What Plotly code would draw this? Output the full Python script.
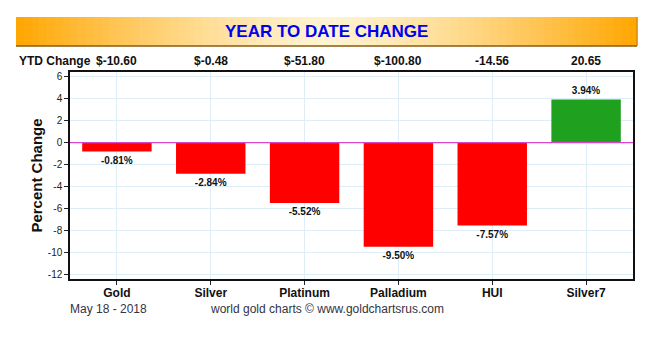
import plotly.graph_objects as go

categories = ["Gold", "Silver", "Platinum", "Palladium", "HUI", "Silver7"]
pct_change = [-0.81, -2.84, -5.52, -9.50, -7.57, 3.94]
ytd_change = ["$-10.60", "$-0.48", "$-51.80", "$-100.80", "-14.56", "20.65"]
y_ticks = [-12, -10, -8, -6, -4, -2, 0, 2, 4, 6]
y_tick_text = [str(v) for v in y_ticks]

colors = ["#FF0000" if v < 0 else "#1FA01F" for v in pct_change]
labels = [f"<b>{v:.2f}%</b>" for v in pct_change]

fig = go.Figure()
fig.add_trace(go.Bar(
    x=categories, y=pct_change, marker=dict(color=colors, line=dict(width=0)),
    width=0.74, text=labels, textposition="outside", cliponaxis=False,
    textfont=dict(family="Liberation Sans, Arial", size=10, color="#111111"),
    hoverinfo="skip",
))

# gradient banner made of thin strips
def lerp(a, b, t):
    return int(round(a + (b - a) * t))
edge = (255, 166, 0)
mid = (255, 243, 210)
x0, x1, y0, y1 = 16, 637, 17, 46
n = 80
shapes = []
for i in range(n):
    t = (i + 0.5) / n
    d = abs(t - 0.5) * 2
    d = d ** 1.3
    c = tuple(lerp(mid[k], edge[k], d) for k in range(3))
    xa = x0 + (x1 - x0) * i / n
    xb = x0 + (x1 - x0) * (i + 1) / n + 0.6
    shapes.append(dict(type="rect", xref="paper", yref="paper", layer="below",
                       x0=(xa - 70) / 563, x1=(xb - 70) / 563,
                       y0=(337 - 58 - y1) / 207, y1=(337 - 58 - y0) / 207,
                       line=dict(width=0), fillcolor="rgb(%d,%d,%d)" % c))
shapes.append(dict(type="line", xref="paper", yref="paper",
                   x0=(x0 - 70) / 563, x1=(x1 - 70) / 563,
                   y0=(337 - 58 - y1) / 207, y1=(337 - 58 - y1) / 207,
                   line=dict(color="#8A5A10", width=1.5)))
shapes.append(dict(type="line", xref="paper", yref="paper",
                   x0=(x1 - 70) / 563, x1=(x1 - 70) / 563,
                   y0=(337 - 58 - y1) / 207, y1=(337 - 58 - y0) / 207,
                   line=dict(color="#C07A10", width=1)))
shapes.append(dict(type="line", xref="paper", yref="y", x0=0, x1=1, y0=0, y1=0,
                   line=dict(color="#DD44CC", width=1.2)))

font_main = "Liberation Sans, Arial"
annotations = [
    dict(text="<b>YEAR TO DATE CHANGE</b>", xref="paper", yref="paper",
         x=(326.5 - 70) / 563, y=(337 - 58 - 31.5) / 207, showarrow=False,
         font=dict(family=font_main, size=17, color="#0000EE"),
         xanchor="center", yanchor="middle"),
    dict(text="<b>YTD Change</b>", xref="paper", yref="paper",
         x=(17 - 70) / 563, y=(337 - 58 - 61) / 207, showarrow=False,
         font=dict(family=font_main, size=12, color="#111111"),
         xanchor="left", yanchor="middle"),
    dict(text="May 18 - 2018", xref="paper", yref="paper",
         x=(68 - 70) / 563, y=(337 - 58 - 309) / 207, showarrow=False,
         font=dict(family=font_main, size=12, color="#333344"),
         xanchor="left", yanchor="middle"),
    dict(text="world gold charts © www.goldchartsrus.com", xref="paper", yref="paper",
         x=(327 - 70) / 563, y=(337 - 58 - 309) / 207, showarrow=False,
         font=dict(family=font_main, size=12, color="#333344"),
         xanchor="center", yanchor="middle"),
]
for c, v in zip(categories, ytd_change):
    annotations.append(dict(text=f"<b>{v}</b>", x=c, xref="x", yref="paper",
                            y=(337 - 58 - 61) / 207, showarrow=False,
                            font=dict(family=font_main, size=12, color="#111111"),
                            xanchor="center", yanchor="middle"))

fig.update_layout(
    width=651, height=337,
    margin=dict(l=70, r=18, t=72, b=58),
    paper_bgcolor="white", plot_bgcolor="white",
    showlegend=False, bargap=0.26,
    shapes=shapes, annotations=annotations,
    xaxis=dict(range=[-0.5, 5.5], showgrid=True, gridcolor="#DDEEF8", gridwidth=1,
               ticks="outside", ticklen=4, tickcolor="#222", tickwidth=1,
               ticklabelstandoff=-2,
               showline=True, linecolor="#111", linewidth=1.5, mirror=True,
               tickfont=dict(family=font_main, size=12, color="#111111"),
               tickprefix="<b>", ticksuffix="</b>", zeroline=False),
    yaxis=dict(range=[-12.45, 6.45], tickvals=y_ticks, ticktext=y_tick_text,
               showgrid=True, gridcolor="#DDEEF8", gridwidth=1, zeroline=False,
               ticks="outside", ticklen=4, tickcolor="#222",
               showline=True, linecolor="#111", linewidth=1.5, mirror=True,
               tickfont=dict(family=font_main, size=10, color="#222222"),
               title=dict(text="<b>Percent Change</b>", standoff=2,
                          font=dict(family=font_main, size=15, color="#111111"))),
)

fig.write_html("out.html")
